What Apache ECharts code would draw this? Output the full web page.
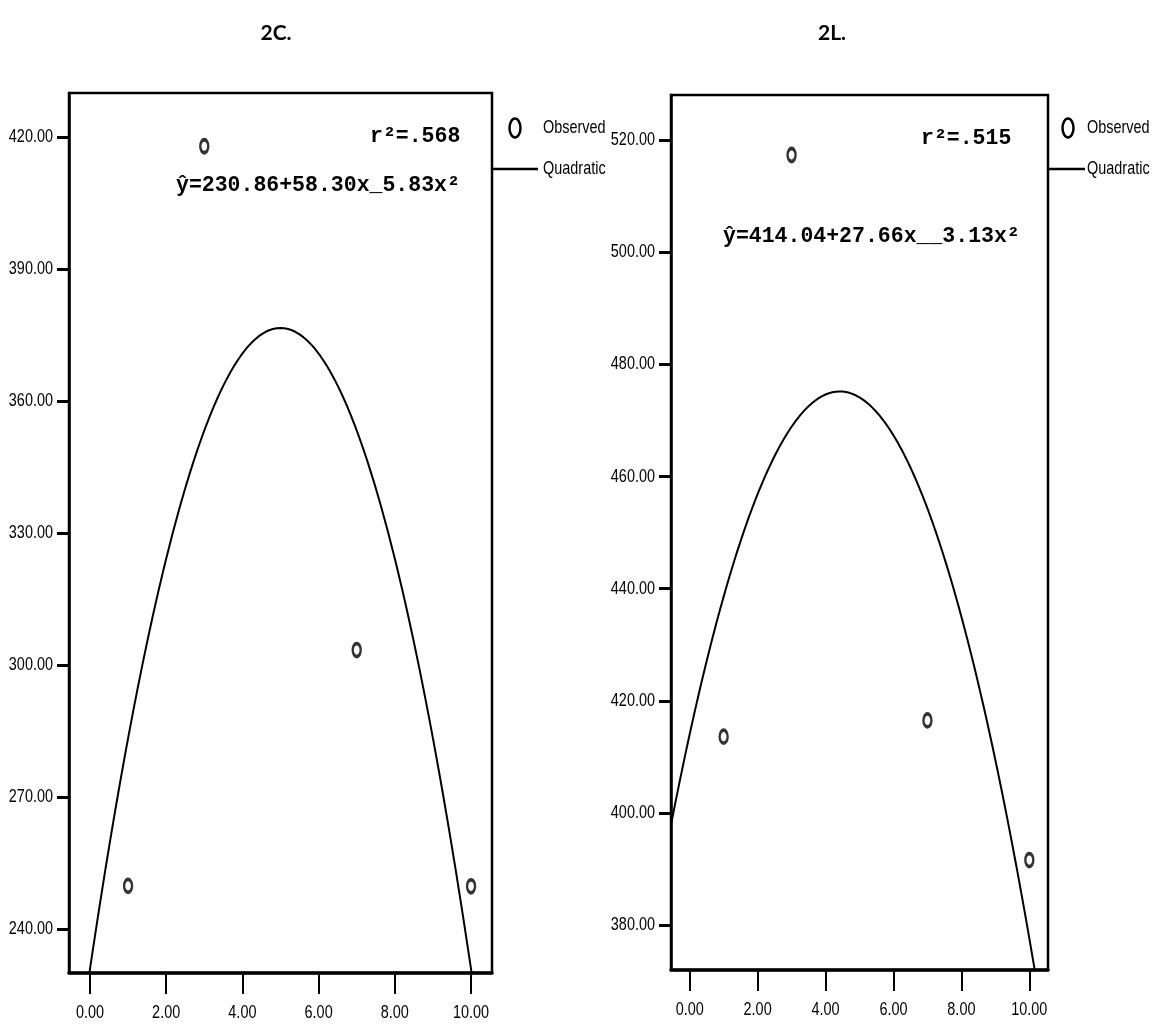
<!DOCTYPE html>
<html>
<head>
<meta charset="utf-8">
<title>2C. / 2L. quadratic fits</title>
<script src="https://cdn.jsdelivr.net/npm/echarts@6/dist/echarts.min.js"></script>
<style>
  html, body { margin: 0; padding: 0; background: #fff; }
  #chart { width: 1153px; height: 1026px; }
</style>
</head>
<body>
<div id="chart"></div>
<script>
// Panel headings
const panelTitles = ['2C.', '2L.'];

// Observed values (x = level, y = response)
const xObserved = [1, 3, 7, 10];
const yObserved2C = [249.8, 417.9, 303.4, 249.7];
const yObserved2L = [413.6, 517.3, 416.5, 391.6];

// Fitted quadratic coefficients [b0, b1, b2] for y = b0 + b1*x + b2*x^2
const coef2C = [230.86, 58.30, -5.83];
const coef2L = [414.04, 27.66, -3.13];

// Fit statistics printed inside each panel
const rSquared = ['r\u00b2=.568', 'r\u00b2=.515'];
const equations = ['\u0177=230.86+58.30x_5.83x\u00b2', '\u0177=414.04+27.66x__3.13x\u00b2'];

// Tick values (labels are printed with two decimals)
const xTickValues = [0, 2, 4, 6, 8, 10];
const yTicks2C = [240, 270, 300, 330, 360, 390, 420];
const yTicks2L = [380, 400, 420, 440, 460, 480, 500, 520];

const sansFont = "'Liberation Sans', Arial, sans-serif";
const monoFont = "'Liberation Mono', 'DejaVu Sans Mono', monospace";
const NARROW = 0.76;   // horizontal squeeze for the condensed axis/legend lettering

const X_MIN = -0.55, X_MAX = 10.55;
const Y_RANGE = [[230, 430], [372, 528]];
const Y_TICKS = [yTicks2C, yTicks2L];

// Sample the fitted curve across the x-axis range
function fittedCurve(coef) {
  const pts = [];
  for (let i = 0; i <= 222; i++) {
    const x = X_MIN + i * 0.05;
    pts.push([x, coef[0] + coef[1] * x + coef[2] * x * x]);
  }
  return pts;
}

function xAxisFor(gridIndex) {
  return {
    type: 'value', gridIndex, min: X_MIN, max: X_MAX,
    splitLine: { show: false },
    axisLine: { show: true, onZero: false, lineStyle: { color: '#000', width: 3.5 } },
    axisTick: { show: true, length: 21, customValues: xTickValues, lineStyle: { color: '#000', width: 2 } },
    axisLabel: { show: false }
  };
}

function yAxisFor(gridIndex) {
  return {
    type: 'value', gridIndex, min: Y_RANGE[gridIndex][0], max: Y_RANGE[gridIndex][1],
    splitLine: { show: false },
    axisLine: { show: true, onZero: false, lineStyle: { color: '#000', width: 2.5 } },
    axisTick: { show: true, length: 12, customValues: Y_TICKS[gridIndex], lineStyle: { color: '#000', width: 3 } },
    axisLabel: { show: false }
  };
}

const pointStyle = { color: '#fff', borderColor: '#000', borderWidth: 3 };

function narrowText(x, y, text, align, vAlign) {
  return {
    type: 'text', x, y, scaleX: NARROW,
    style: { text, fill: '#000', font: '19px ' + sansFont, textAlign: align, textVerticalAlign: vAlign }
  };
}

// Legend drawn as shapes plus condensed labels
function legendGraphics(circleX, textX, lineX1, lineX2, yObs, yQuad) {
  return [
    { type: 'ellipse', shape: { cx: circleX, cy: yObs, rx: 5.5, ry: 9.5 },
      style: { fill: '#fff', stroke: '#000', lineWidth: 2.5 } },
    narrowText(textX, yObs, 'Observed', 'left', 'middle'),
    { type: 'line', shape: { x1: lineX1, y1: yQuad, x2: lineX2, y2: yQuad },
      style: { stroke: '#000', lineWidth: 2.5 } },
    narrowText(textX, yQuad, 'Quadratic', 'left', 'middle')
  ];
}

function statText(x, y, text) {
  return { type: 'text', x, y,
    style: { text, fill: '#000', font: 'bold 21.5px ' + monoFont, textVerticalAlign: 'middle' } };
}

const chart = echarts.init(document.getElementById('chart'), null, { renderer: 'canvas' });

const titleStyle = { fontFamily: 'Lato, sans-serif', fontWeight: 'bold', fontSize: 21, color: '#000' };

chart.setOption({
  animation: false,
  backgroundColor: '#fff',
  title: [
    { text: panelTitles[0], left: 271, top: 18, textAlign: 'center', textStyle: titleStyle },
    { text: panelTitles[1], left: 827, top: 18, textAlign: 'center', textStyle: titleStyle }
  ],
  grid: [
    { left: 69, right: 1153 - 492, top: 93, bottom: 1026 - 973, show: true, borderColor: '#000', borderWidth: 2.5 },
    { left: 671, right: 1153 - 1048, top: 95, bottom: 1026 - 970, show: true, borderColor: '#000', borderWidth: 2.5 }
  ],
  xAxis: [xAxisFor(0), xAxisFor(1)],
  yAxis: [yAxisFor(0), yAxisFor(1)],
  series: [
    { name: 'Quadratic', type: 'line', xAxisIndex: 0, yAxisIndex: 0, data: fittedCurve(coef2C),
      showSymbol: false, clip: true, lineStyle: { color: '#000', width: 2 }, z: 2 },
    { name: 'Observed', type: 'scatter', xAxisIndex: 0, yAxisIndex: 0,
      data: xObserved.map((x, i) => [x, yObserved2C[i]]),
      symbol: 'circle', symbolSize: [8, 13], itemStyle: pointStyle, z: 3 },
    { name: 'Quadratic', type: 'line', xAxisIndex: 1, yAxisIndex: 1, data: fittedCurve(coef2L),
      showSymbol: false, clip: true, lineStyle: { color: '#000', width: 2 }, z: 2 },
    { name: 'Observed', type: 'scatter', xAxisIndex: 1, yAxisIndex: 1,
      data: xObserved.map((x, i) => [x, yObserved2L[i]]),
      symbol: 'circle', symbolSize: [8, 13], itemStyle: pointStyle, z: 3 }
  ]
});

// Tick labels in condensed lettering, placed through each axis' scale
const tickLabels = [];
[0, 1].forEach(g => {
  const finder = { xAxisIndex: g, yAxisIndex: g };
  Y_TICKS[g].forEach(v => {
    const p = chart.convertToPixel(finder, [X_MIN, v]);
    tickLabels.push(narrowText(p[0] - 16, p[1], v.toFixed(2), 'right', 'middle'));
  });
  xTickValues.forEach(v => {
    const p = chart.convertToPixel(finder, [v, Y_RANGE[g][0]]);
    tickLabels.push(narrowText(p[0], p[1] + 30, v.toFixed(2), 'center', 'top'));
  });
});

chart.setOption({
  graphic: [
    ...tickLabels,
    ...legendGraphics(515, 543, 493, 538, 128, 169),
    ...legendGraphics(1068, 1087, 1049, 1085, 128, 169),
    statText(370, 137, rSquared[0]),
    statText(176, 186, equations[0]),
    statText(921, 139, rSquared[1]),
    statText(723, 237, equations[1])
  ]
});
</script>
</body>
</html>
